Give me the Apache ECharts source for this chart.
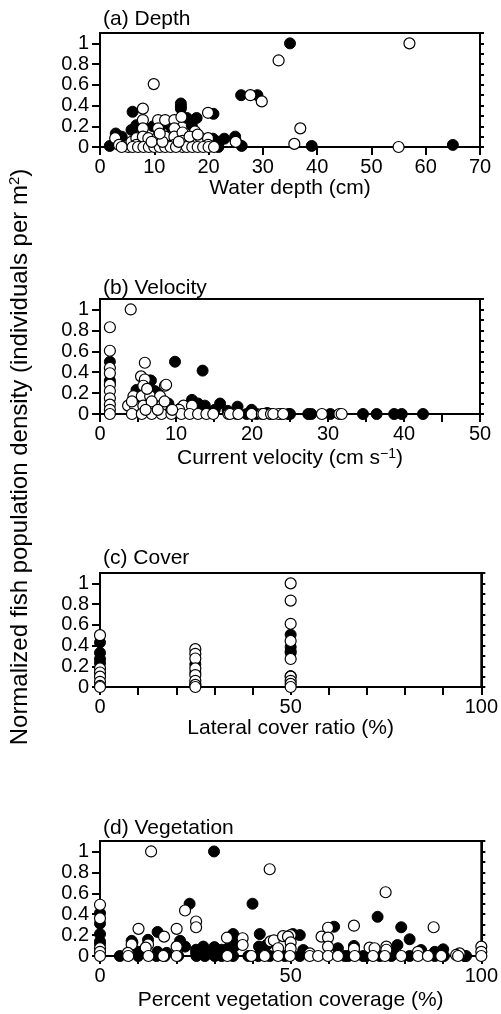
<!DOCTYPE html>
<html>
<head>
<meta charset="utf-8">
<script src="https://cdn.jsdelivr.net/npm/echarts@6/dist/echarts.min.js"></script>
<style>html,body{margin:0;padding:0;background:#fff;}#c{width:501px;height:1014px;}</style>
</head>
<body>
<div id="c"></div>
<script>
// ---------- DATA ----------
const panelTitles = ['(a) Depth', '(b) Velocity', '(c) Cover', '(d) Vegetation'];
const xNames = ['Water depth (cm)', 'Current velocity (cm s{sup|\u22121})', 'Lateral cover ratio (%)', 'Percent vegetation coverage (%)'];
const xMax = [70, 50, 100, 100];
const xTickStep = [10, 5, 10, 10];
const xLabelStep = [10, 10, 50, 50];
const yMax = 1.1;

const depthFilled = [[1.8,0.01],[2.9,0.13],[4,0.10],[5.8,0.165],[6,0.34],[6.7,0.21],[8,0.2],[6.9,0.2],[9.8,0.2],[11.3,0.21],[14.9,0.42],[14.9,0.39],[14.9,0.37],[16,0.28],[17.8,0.28],[16.9,0.21],[20.9,0.32],[20.8,0.08],[21.8,0.05],[21.8,0],[22.9,0.08],[24.9,0.10],[25,0.06],[26.1,0.01],[26,0.5],[29,0.5],[35,1.0],[39,0.01],[65,0.02],[13,0.2],[12,0.1],[9,0.05],[3,0.05],[20,0.02],[14,0.15]];
const depthOpen = [[2.8,0.085],[3.5,0.02],[5.2,0],[5.8,0.05],[6.7,0.085],[6.7,0.02],[7.9,0.37],[7.9,0.26],[7.9,0.18],[7.9,0.10],[8.9,0.02],[8.9,0.085],[9.9,0.607],[10.7,0.26],[10.7,0.18],[10.7,0.10],[10.7,0.02],[12,0.26],[12,0.1],[12,0.02],[13.7,0.26],[13.7,0.18],[13.7,0.1],[13.7,0.02],[15,0.29],[15.2,0.14],[15.2,0.06],[15.2,0],[16.4,0.02],[17.5,0.15],[17.5,0.1],[17.5,0.02],[18.6,0.02],[18.6,0.085],[19.9,0.33],[19.9,0.085],[19.9,0.02],[25,0.05],[27.7,0.5],[29.8,0.44],[32.9,0.835],[35.8,0.03],[36.9,0.18],[55,0],[57,1.0],[4,0],[6,0],[7,0],[8,0],[9,0],[10,0],[11,0],[12,0],[13,0],[14,0],[16,0],[17,0],[18,0],[19,0],[20,0],[21,0],[9.5,0.05],[11.5,0.05],[14.5,0.05],[16.5,0.1],[18,0.12],[11,0.13]];

const velocityFilled = [[1.3,0.5],[1.3,0.32],[1.3,0.3],[9.87,0.5],[13.5,0.415],[6.5,0.32],[6.7,0.32],[4.8,0.23],[7.2,0.22],[7.5,0.14],[9,0.1],[12.1,0.135],[12.9,0.1],[13.8,0.08],[15.8,0.1],[18.1,0.07],[19.95,0.04],[15.1,0.04],[16.8,0.03],[24.8,0],[19.3,0],[20.6,0],[25,0],[27.4,0],[27.8,0],[30.3,0],[34.6,0],[36.4,0],[38.7,0],[39.7,0],[42.5,0],[5.5,0.2],[6,0.15],[7.5,0.2],[8,0.06],[10.5,0.05],[11.5,0.03],[14,0.02],[17,0.01],[22,0.01]];
const velocityOpen = [[1.3,0.83],[1.3,0.605],[1.3,0.44],[1.3,0.39],[1.3,0.28],[1.3,0.22],[1.3,0.15],[1.3,0.09],[1.3,0.04],[1.3,0],[4.04,1.0],[5.9,0.49],[5.4,0.36],[5.9,0.33],[8.55,0.27],[8.7,0.28],[5.7,0.27],[4.4,0.17],[5.5,0.17],[6.6,0.17],[7.9,0.17],[3.7,0.08],[4.6,0.08],[5.7,0.08],[7,0.08],[8.1,0.08],[11,0.08],[12.1,0.08],[10.4,0.04],[4.2,0],[5.5,0],[6.8,0],[8.1,0],[9.4,0],[10.7,0],[11.8,0],[12.9,0],[14,0],[14.9,0],[16.9,0],[18,0],[19.95,0],[21.3,0],[22.4,0],[23.9,0],[17.1,0],[18.2,0],[21.5,0],[22.5,0],[23.5,0],[22.8,0],[24.1,0],[29.2,0],[31.5,0],[31.8,0],[6.2,0.24],[4.2,0.12],[6.8,0.12],[8.5,0.12],[9.5,0.04],[6,0.04],[7.6,0.04]];

const coverFilled = [[0,0.43],[0,0.33],[0,0.23],[0,0.27],[25,0.22],[25,0.14],[25,0.03],[50,0.505],[50,0.386],[50,0.345],[50,0.33],[50,0.105]];
const coverOpen = [[0,0.5],[0,0.18],[0,0.14],[0,0.1],[0,0.05],[0,0.01],[0,0],[25,0.365],[25,0.32],[25,0.275],[25,0.18],[25,0.115],[25,0.06],[25,0.02],[25,0],[50,1.0],[50,0.834],[50,0.61],[50,0.444],[50,0.27],[50,0.1],[50,0.06],[50,0.03],[50,0]];

const vegFilled = [[0,0.41],[0,0.31],[0,0.21],[0,0.14],[0,0.115],[29.9,1.0],[23.5,0.5],[40,0.5],[15.1,0.23],[12.6,0.155],[8.3,0.145],[8.5,0.13],[21,0.145],[22.3,0.09],[34.9,0.21],[35.2,0.17],[35.2,0.09],[41.9,0.21],[41.7,0.09],[43.7,0.105],[27.1,0.09],[30,0.085],[25.2,0.06],[25.2,0.03],[10.1,0.04],[15.1,0.04],[17.5,0.03],[31.9,0.06],[33.6,0.074],[28.1,0.02],[50.6,0.21],[52.4,0.2],[61.4,0.28],[72.8,0.375],[79,0.275],[81.2,0.16],[78,0.105],[62.4,0.074],[66.6,0.096],[66.6,0.06],[76.8,0.04],[84.2,0.057],[87.8,0.04],[90,0.064],[53.3,0.057],[5.2,0],[10,0],[14.8,0],[17,0],[20.5,0],[25.3,0],[27.5,0],[30.1,0],[31.9,0],[34.9,0],[38.9,0],[41.5,0],[44.5,0],[48.5,0],[52.4,0],[64.2,0],[65.1,0],[69,0],[69.9,0],[73.4,0],[76.4,0],[81.2,0],[87.8,0],[90.2,0],[95.6,0],[96,0]];
const vegOpen = [[0,0.49],[0,0.36],[0,0.074],[0,0.04],[0,0],[13.4,1.0],[44.5,0.83],[22.3,0.435],[25.2,0.33],[25.2,0.275],[10.1,0.26],[20.1,0.26],[16.8,0.185],[8.3,0.11],[12.6,0.11],[12,0.08],[20.1,0.09],[33.3,0.175],[37.4,0.17],[37.4,0.105],[44.7,0.14],[45.6,0.15],[48,0.19],[46.7,0.074],[7.3,0.03],[74.9,0.61],[66.6,0.29],[87.5,0.275],[59.8,0.27],[58.1,0.185],[59.8,0.176],[50,0.2],[49.3,0.185],[50,0.13],[50,0.07],[59.8,0.09],[70.7,0.08],[72,0.074],[75.1,0.09],[75.1,0.06],[83.4,0.04],[94.3,0.025],[93.4,0.01],[100,0.09],[100,0.04],[100,0],[55,0.025],[66.6,0.07],[7.4,0],[12.7,0],[16.6,0],[20.1,0],[33.4,0],[39.7,0],[43.2,0],[46.7,0],[49.8,0],[55,0],[57.2,0],[59.8,0],[62.4,0],[66.8,0],[71.6,0],[74.7,0],[79,0],[83.4,0],[86,0],[89.5,0],[93.9,0]];

const filledSets = [depthFilled, velocityFilled, coverFilled, vegFilled];
const openSets = [depthOpen, velocityOpen, coverOpen, vegOpen];

// ---------- LAYOUT ----------
const FONT = '"Liberation Sans", Arial, Helvetica, sans-serif';
const grids = [
  {left: 100, right: 21, top: 33, height: 114},
  {left: 100, right: 21, top: 299, height: 115},
  {left: 100, right: 19, top: 573, height: 114},
  {left: 100, right: 19, top: 841, height: 115}
];
const titleTops = [9, 278, 548, 818];
const nameGaps = [30, 33, 30, 34];

const chart = echarts.init(document.getElementById('c'), null, {renderer: 'canvas'});
const option = {
  backgroundColor: '#fff',
  animation: false,
  title: panelTitles.map((t, i) => ({
    text: t, left: 103, top: titleTops[i], padding: 0,
    textStyle: {fontSize: 21, fontWeight: 'normal', color: '#000', fontFamily: FONT}
  })),
  grid: grids.map(g => Object.assign({show: true, borderColor: '#000', borderWidth: 2, backgroundColor: 'transparent'}, g)),
  xAxis: grids.map((g, i) => ({
    type: 'value', gridIndex: i, min: 0, max: xMax[i], interval: xTickStep[i],
    axisLine: {show: true, lineStyle: {color: '#000', width: 2}},
    axisTick: {show: true, length: 8, lineStyle: {color: '#000', width: 2}},
    splitLine: {show: false},
    axisLabel: {
      fontSize: 20, color: '#000', margin: 10, fontFamily: FONT,
      formatter: v => (Math.abs(v / xLabelStep[i] - Math.round(v / xLabelStep[i])) < 1e-6) ? String(v) : ''
    },
    name: xNames[i], nameLocation: 'middle', nameGap: nameGaps[i],
    nameTextStyle: {fontSize: 21, color: '#000', fontFamily: FONT,
      rich: {sup: {fontSize: 14, color: '#000', fontFamily: FONT, verticalAlign: 'top', padding: [0, 0, 9, 0]}}}
  })),
  yAxis: [].concat(...grids.map((g, i) => ([
    {
      type: 'value', gridIndex: i, min: 0, max: yMax, interval: 0.2,
      axisLine: {show: true, lineStyle: {color: '#000', width: 2}},
      axisTick: {show: true, length: 8, lineStyle: {color: '#000', width: 2}},
      splitLine: {show: false},
      axisLabel: {fontSize: 20, color: '#000', margin: 11, fontFamily: FONT, showMaxLabel: false,
        formatter: v => String(Math.round(v * 10) / 10)}
    },
    {
      type: 'value', gridIndex: i, min: 0, max: yMax, interval: 0.1,
      axisLine: {show: true, lineStyle: {color: '#000', width: 2}},
      axisTick: {show: true, length: 4, lineStyle: {color: '#000', width: 2}},
      splitLine: {show: false},
      axisLabel: {show: false}
    }
  ]))),
  series: [].concat(...grids.map((g, i) => ([
    {
      type: 'scatter', xAxisIndex: i, yAxisIndex: 2 * i, data: filledSets[i],
      symbol: 'circle', symbolSize: 11, clip: false,
      itemStyle: {color: '#000', borderColor: '#000', borderWidth: 1, opacity: 1}
    },
    {
      type: 'scatter', xAxisIndex: i, yAxisIndex: 2 * i, data: openSets[i],
      symbol: 'circle', symbolSize: 11, clip: false,
      itemStyle: {color: '#fff', borderColor: '#000', borderWidth: 1.2, opacity: 1}
    }
  ]))),
  graphic: [{
    type: 'text', x: 20, y: 457, rotation: Math.PI / 2,
    style: {
      text: 'Normalized fish population density (individuals per m{sup|2})',
      fontSize: 24, fill: '#000', fontFamily: FONT, align: 'center', verticalAlign: 'middle',
      rich: {sup: {fontSize: 15, fill: '#000', fontFamily: FONT, verticalAlign: 'top', padding: [0, 0, 10, 0]}}
    }
  }]
};
chart.setOption(option);
</script>
</body>
</html>
